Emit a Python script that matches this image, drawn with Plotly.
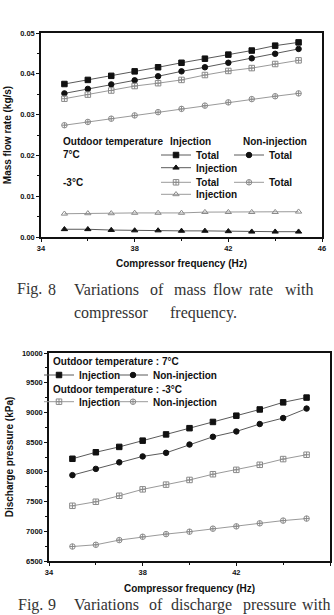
import plotly.graph_objects as go

W, H = 334, 615

# ---------------- data ----------------
freq = [35, 36, 37, 38, 39, 40, 41, 42, 43, 44, 45]

# Fig. 8 mass flow rate (kg/s)
mf_7_inj_total = [0.0375, 0.0385, 0.0395, 0.0406, 0.0416, 0.0427, 0.0437, 0.0447, 0.0457, 0.0469, 0.0477]
mf_7_non_total = [0.0352, 0.0363, 0.0374, 0.0384, 0.0394, 0.0406, 0.0416, 0.0427, 0.0438, 0.0449, 0.0461]
mf_7_inj_inj = [0.0019, 0.0019, 0.0017, 0.0016, 0.0016, 0.0015, 0.0015, 0.0014, 0.0013, 0.0013, 0.0013]
mf_m3_inj_total = [0.0339, 0.0349, 0.0359, 0.0370, 0.0377, 0.0385, 0.0397, 0.0407, 0.0414, 0.0424, 0.0433]
mf_m3_non_total = [0.0274, 0.0282, 0.0290, 0.0298, 0.0306, 0.0314, 0.0322, 0.0330, 0.0338, 0.0345, 0.0352]
mf_m3_inj_inj = [0.0057, 0.0058, 0.0058, 0.0059, 0.0059, 0.0059, 0.0061, 0.0061, 0.0061, 0.0061, 0.0062]

# Fig. 9 discharge pressure (kPa)
dp_7_inj = [8220, 8330, 8420, 8525, 8630, 8735, 8840, 8945, 9050, 9170, 9250]
dp_7_non = [7945, 8050, 8160, 8260, 8320, 8460, 8590, 8680, 8805, 8905, 9065]
dp_m3_inj = [7429, 7497, 7598, 7706, 7785, 7864, 7960, 8034, 8119, 8215, 8288]
dp_m3_non = [6744, 6773, 6852, 6908, 6953, 6993, 7044, 7083, 7134, 7180, 7214]

x_ticks = [34, 38, 42, 46]
mf_ticks = [0.00, 0.01, 0.02, 0.03, 0.04, 0.05]
dp_ticks = [6500, 7000, 7500, 8000, 8500, 9000, 9500, 10000]

# ---------------- helpers ----------------
def px(x):
    return x / W

def py(y):
    return 1 - y / H

SANS = "Liberation Sans, Arial, sans-serif"
SERIF = "Liberation Serif, Times New Roman, serif"
BLACK = "#111111"
GRAY = "#8a8a8a"
DLINE = "#5a5a5a"
LLINE = "#9a9a9a"

fig = go.Figure()

def add(x, y, sym, mcol, lcol, name, legend, xa, ya):
    fig.add_trace(go.Scatter(
        x=x, y=y, mode="lines+markers", name=name, legend=legend,
        xaxis=xa, yaxis=ya, showlegend=True,
        line=dict(color=lcol, width=1),
        marker=dict(symbol=sym, size=5.5, color=mcol,
                    line=dict(color=mcol, width=1)),
    ))

add(freq, mf_7_inj_total, "square", BLACK, DLINE, "Total", "legend11", "x", "y")
add(freq, mf_7_non_total, "circle", BLACK, DLINE, "Total", "legend2", "x", "y")
add(freq, mf_7_inj_inj, "triangle-up", BLACK, DLINE, "Injection", "legend3", "x", "y")
add(freq, mf_m3_inj_total, "square-cross-open", GRAY, LLINE, "Total", "legend4", "x", "y")
add(freq, mf_m3_non_total, "circle-cross-open", GRAY, LLINE, "Total", "legend5", "x", "y")
add(freq, mf_m3_inj_inj, "triangle-up-open", GRAY, LLINE, "Injection", "legend6", "x", "y")

add(freq, dp_7_inj, "square", BLACK, DLINE, "Injection", "legend7", "x2", "y2")
add(freq, dp_7_non, "circle", BLACK, DLINE, "Non-injection", "legend8", "x2", "y2")
add(freq, dp_m3_inj, "square-cross-open", GRAY, LLINE, "Injection", "legend9", "x2", "y2")
add(freq, dp_m3_non, "circle-cross-open", GRAY, LLINE, "Non-injection", "legend10", "x2", "y2")

# legends: (marker x px, center y px)
leg_pos = {
    "legend11": (176, 155), "legend2": (249, 155), "legend3": (176, 167.7),
    "legend4": (176, 182.3), "legend5": (249, 182.3), "legend6": (176, 194.3),
    "legend7": (59, 375), "legend8": (133, 375), "legend9": (59, 401.7), "legend10": (133, 401.7),
}
legend_font = dict(family=SANS, size=10, color=BLACK, weight="bold")
for k, (mx, my) in leg_pos.items():
    fig.layout[k] = dict(x=px(mx - 20), y=py(my), xanchor="left", yanchor="middle",
                         bgcolor="rgba(0,0,0,0)", borderwidth=0, font=legend_font,
                         itemwidth=30, tracegroupgap=0, visible=True)

tickfont = dict(family=SANS, size=7.5, color=BLACK, weight="bold")
titlefont = dict(family=SANS, size=10, color=BLACK, weight="bold")

common_axis = dict(showline=True, linecolor=BLACK, linewidth=1.5, mirror=True,
                   ticks="outside", ticklen=3, tickwidth=1, tickcolor=BLACK,
                   showgrid=False, zeroline=False, tickfont=tickfont, automargin=False)

fig.update_layout(
    width=W, height=H, autosize=False, showlegend=True,
    margin=dict(l=0, r=0, t=0, b=0),
    paper_bgcolor="white", plot_bgcolor="white",
    xaxis=dict(common_axis, domain=[px(41), px(322)], anchor="y", range=[34, 46],
               tickvals=x_ticks, minor=dict(dtick=2, ticklen=2, ticks="outside", tickcolor=BLACK),
               title=dict(text="Compressor frequency (Hz)", font=titlefont, standoff=8)),
    yaxis=dict(common_axis, domain=[py(237), py(33)], anchor="x", range=[0, 0.05],
               tickvals=mf_ticks, tickformat=".2f",
               minor=dict(dtick=0.005, ticklen=2, ticks="outside", tickcolor=BLACK),
               title=dict(text="Mass flow rate (kg/s)", font=titlefont, standoff=7)),
    xaxis2=dict(common_axis, domain=[px(49), px(330)], anchor="y2", range=[34, 46],
                tickvals=x_ticks, minor=dict(dtick=2, ticklen=2, ticks="outside", tickcolor=BLACK),
                title=dict(text="Compressor frequency (Hz)", font=titlefont, standoff=9)),
    yaxis2=dict(common_axis, domain=[py(561), py(353)], anchor="x2", range=[6500, 10000],
                tickvals=dp_ticks, tickformat="d",
                minor=dict(dtick=250, ticklen=2, ticks="outside", tickcolor=BLACK),
                title=dict(text="Discharge pressure (kPa)", font=titlefont, standoff=6)),
)

def label(text, x, y, font=None, xanchor="left"):
    fig.add_annotation(text=text, x=px(x), y=py(y), xref="paper", yref="paper",
                       xanchor=xanchor, yanchor="middle", showarrow=False,
                       font=font or legend_font)

# Fig 8 legend headers
label("Outdoor temperature", 60.7, 141)
label("Injection", 167.7, 141)
label("Non-injection", 240.7, 141)
label("7°C", 60.7, 155)
label("-3°C", 60.7, 182.3)
# Fig 9 legend headers
label("Outdoor temperature : 7°C", 51, 361.7)
label("Outdoor temperature : -3°C", 51, 389.3)

# captions
capfont = dict(family=SERIF, size=16, color="#333333")
cap8a = [("Fig.", 15), ("8", 46), ("Variations", 71.7), ("of", 148), ("mass", 171.7),
         ("flow", 210.7), ("rate", 246.7), ("with", 282.7)]
for w, x in cap8a:
    label(w, x, 289, capfont)
for w, x in [("compressor", 71.7), ("frequency.", 168.3)]:
    label(w, x, 312.5, capfont)
cap9 = [("Fig.", 15.7), ("9", 46), ("Variations", 71.7), ("of", 146.7), ("discharge", 169.3),
        ("pressure", 240.7), ("with", 300)]
for w, x in cap9:
    label(w, x, 604.5, capfont)

fig.write_html("out.html")
